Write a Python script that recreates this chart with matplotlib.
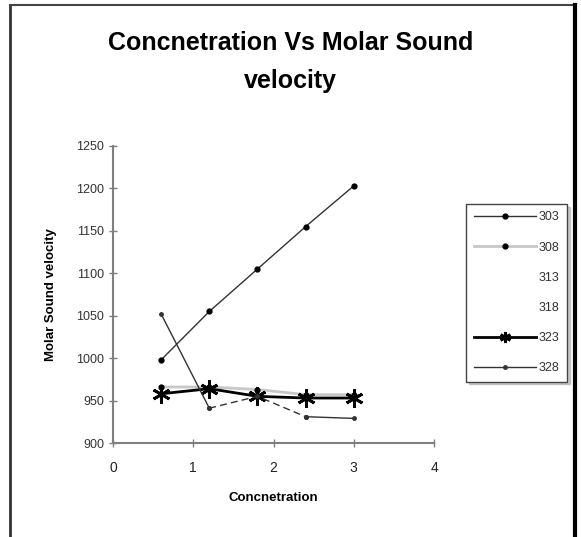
import matplotlib.pyplot as plt
from matplotlib.lines import Line2D

plt.rcParams['font.family'] = ['Liberation Sans', 'DejaVu Sans']

# data
conc = [0.6, 1.2, 1.8, 2.4, 3.0]
v303 = [998, 1055, 1105, 1155, 1203]
v308 = [966, 966, 963, 957, 957]
v323 = [958, 964, 955, 953, 953]
v328 = [1052, 941, 955, 931, 929]
y_ticks = [900, 950, 1000, 1050, 1100, 1150, 1200, 1250]
x_ticks = [0, 1, 2, 3, 4]

fig = plt.figure(figsize=(5.81, 5.37), dpi=100)
ax = fig.add_axes([113 / 581, 94 / 537, 321 / 581, 297 / 537])

ax.plot(conc, v303, color='#333333', lw=1, marker='o', ms=3.5, mfc='black', mec='black')
ax.plot(conc, v308, color='#c8c8c8', lw=2, marker='o', ms=3.5, mfc='black', mec='black')
ax.plot(conc, v323, color='black', lw=2, marker=(6, 2, 0), ms=13, mew=2)
# 328 drawn solid / dashed / solid like the reference
ax.plot(conc[:2], v328[:2], color='#333333', lw=1, marker='o', ms=2.5)
ax.plot(conc[1:4], v328[1:4], color='#333333', lw=1, ls=(0, (5, 3)), marker='o', ms=2.5)
ax.plot(conc[3:], v328[3:], color='#333333', lw=1, marker='o', ms=2.5)

ax.set_xlim(0, 4)
ax.set_ylim(900, 1250)
ax.set_xticks(x_ticks)
ax.set_yticks(y_ticks)
for s in ['top', 'right']:
    ax.spines[s].set_visible(False)
for s in ['left', 'bottom']:
    ax.spines[s].set_color('#7f7f7f')
    ax.spines[s].set_linewidth(1.5)
ax.tick_params(axis='both', direction='inout', length=6, width=1, color='#7f7f7f',
               labelsize=9, labelcolor='#333333')
ax.tick_params(axis='x', pad=10, labelsize=10, labelcolor='#222222')

ax.set_xlabel('Concnetration', fontsize=9.5, fontweight='bold', labelpad=12)
ax.set_ylabel('Molar Sound velocity', fontsize=9.5, fontweight='heavy', labelpad=14)

fig.text(0.5, 0.943, 'Concnetration Vs Molar Sound\nvelocity', ha='center', va='top',
         fontsize=18, fontweight='bold', linespacing=1.75)

# legend
labels = ['303', '308', '313', '318', '323', '328']
handles = [
    Line2D([], [], color='#333333', lw=1, marker='o', ms=3.5, mfc='black', mec='black'),
    Line2D([], [], color='#c8c8c8', lw=2, marker='o', ms=3.5, mfc='black', mec='black'),
    Line2D([], [], ls='none'),
    Line2D([], [], ls='none'),
    Line2D([], [], color='black', lw=2, marker=(6, 2, 0), ms=8, mew=2),
    Line2D([], [], color='#333333', lw=1, marker='o', ms=2.5),
]
leg = fig.legend(handles, labels, loc='upper left', bbox_to_anchor=(466 / 581, 1 - 204 / 537),
                 fontsize=9, frameon=True, fancybox=False, shadow={'ox': 2, 'oy': -2, 'color': '#999999'},
                 handlelength=5, handletextpad=0.2, labelspacing=1.45,
                 borderpad=0.6, borderaxespad=0)
leg.get_frame().set_edgecolor('#444444')
leg.get_frame().set_linewidth(1)
for t in leg.get_texts():
    t.set_color('#333333')

# outer chart border
fig.add_artist(Line2D([10 / 581, 10 / 581], [0, 1 - 5 / 537], color='#333333', lw=2))
fig.add_artist(Line2D([10 / 581, 575 / 581], [1 - 5 / 537, 1 - 5 / 537], color='#444444', lw=1.5))
fig.add_artist(Line2D([575 / 581, 575 / 581], [0, 1 - 5 / 537], color='black', lw=3))

fig.savefig('out.png', dpi=100)
